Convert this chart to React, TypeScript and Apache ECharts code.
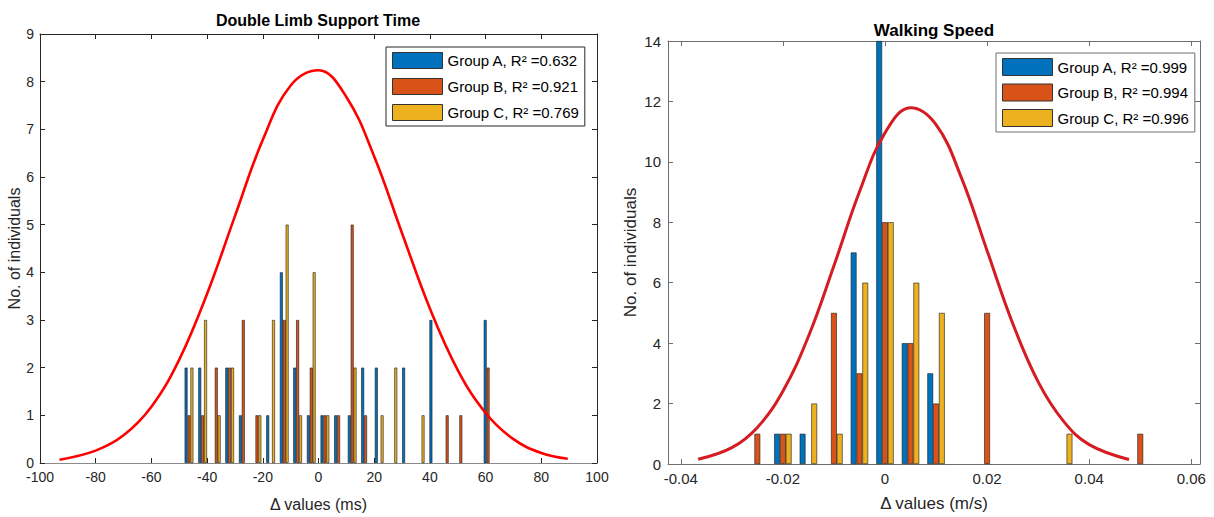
import React, { useEffect, useRef } from "react";
import * as echarts from "echarts";

// ---------- Double Limb Support Time (ms) ----------
const dlsBins = [-46.5, -41.6, -36.7, -31.9, -27.0, -22.1, -17.2, -12.3, -7.5, -2.6, 2.3, 7.2, 12.1, 16.9, 21.8, 26.7, 31.6, 36.5, 41.4, 46.2, 51.1, 60.9];
const dlsA = [2, 2, 0, 2, 1, 0, 1, 4, 2, 1, 1, 1, 1, 2, 2, 0, 2, 0, 3, 0, 0, 3];
const dlsB = [1, 1, 2, 2, 3, 1, 0, 3, 3, 2, 1, 1, 5, 1, 0, 0, 0, 0, 0, 1, 1, 2];
const dlsC = [2, 3, 1, 2, 0, 1, 3, 5, 1, 4, 1, 0, 2, 0, 1, 2, 0, 1, 0, 0, 0, 0];
const dlsNames = ["Group A, R² =0.632", "Group B, R² =0.921", "Group C, R² =0.769"];
const dlsCurveX = [-93, -80, -70, -60, -50, -40, -30, -20, -10, 0, 10, 20, 30, 40, 50, 60, 70, 80, 89.5];
const dlsCurveY = [0.07, 0.26, 0.58, 1.18, 2.17, 3.55, 5.18, 6.78, 7.92, 8.24, 7.68, 6.43, 4.82, 3.24, 1.95, 1.05, 0.5, 0.21, 0.09];
const dlsXTicks = { min: -100, max: 100, step: 20 };
const dlsYTicks = { min: 0, max: 9, step: 1 };

// ---------- Walking Speed (m/s) ----------
const wsBins = [-0.025, -0.02, -0.015, -0.01, -0.005, 0, 0.005, 0.01, 0.02, 0.035, 0.05];
const wsA = [0, 1, 1, 0, 7, 14, 4, 3, 0, 0, 0];
const wsB = [1, 1, 0, 5, 3, 8, 4, 2, 5, 0, 1];
const wsC = [0, 1, 2, 1, 6, 8, 6, 5, 0, 1, 0];
const wsNames = ["Group A, R² =0.999", "Group B, R² =0.994", "Group C, R² =0.996"];
const wsCurveX = [-0.0366, -0.03, -0.025, -0.02, -0.015, -0.01, -0.005, 0, 0.005, 0.01, 0.015, 0.02, 0.025, 0.03, 0.035, 0.04, 0.0478];
const wsCurveY = [0.155, 0.54, 1.21, 2.41, 4.22, 6.56, 9.01, 10.96, 11.79, 11.23, 9.46, 7.06, 4.66, 2.72, 1.41, 0.64, 0.15];
const wsXTicks = { min: -0.0425, max: 0.0617, step: 0.02 };
const wsYTicks = { min: 0, max: 14, step: 2 };

const COLORS = ["#0072BD", "#D95319", "#EDB120"];
const FONT = "'Liberation Sans', Arial, Helvetica, sans-serif";
const TXT = "#262626";

function zip(xs: number[], ys: number[]) {
  return xs.map((x, i) => [x, ys[i]]);
}

export default function App() {
  const ref = useRef<HTMLDivElement>(null);
  useEffect(() => {
    if (!ref.current) return;
    const chart = echarts.init(ref.current, undefined, { renderer: "svg" });

    const axisCommon = (color: string) => ({
      splitLine: { show: false },
      axisLine: { show: true, onZero: false, lineStyle: { color, width: 1 } },
      axisTick: { show: true, inside: true, length: 5, lineStyle: { color } },
    });

    const wsFmt = (v: number) => {
      const k = v / 0.02;
      if (Math.abs(k - Math.round(k)) > 1e-6) return "";
      const r = Math.round(k) * 0.02;
      if (Math.abs(r) < 1e-9) return "0";
      return String(+r.toFixed(2));
    };

    const barSeries = (
      names: string[],
      bins: number[],
      vals: number[][],
      xi: number,
      yi: number,
      w: number
    ) =>
      vals.map((v, k) => ({
        type: "bar",
        name: names[k],
        xAxisIndex: xi,
        yAxisIndex: yi,
        data: zip(bins, v).filter((d) => d[1] > 0),
        barWidth: w,
        barGap: "0%",
        itemStyle: { color: COLORS[k], borderColor: "#1a1a1a", borderWidth: 0.6 },
        z: 2,
      }));

    const option: any = {
      animation: false,
      backgroundColor: "#ffffff",
      textStyle: { fontFamily: FONT },
      grid: [
        { left: 40, top: 34, width: 557, height: 430.5 },
        { left: 668, top: 41, width: 532, height: 423 },
      ],
      xAxis: [
        {
          gridIndex: 0,
          type: "value",
          position: "bottom",
          min: dlsXTicks.min,
          max: dlsXTicks.max,
          interval: dlsXTicks.step,
          ...axisCommon("#262626"),
          axisLine: { show: true, onZero: false, lineStyle: { color: "#8a8a8a", width: 1 } },
          axisLabel: { color: TXT, fontSize: 14, margin: 7, fontFamily: FONT },
          name: "Δ values (ms)",
          nameLocation: "middle",
          nameGap: 33,
          nameTextStyle: { color: TXT, fontSize: 16, fontFamily: FONT },
        },
        {
          gridIndex: 0,
          type: "value",
          position: "top",
          min: dlsXTicks.min,
          max: dlsXTicks.max,
          interval: dlsXTicks.step,
          ...axisCommon("#262626"),
          axisLabel: { show: false },
        },
        {
          gridIndex: 1,
          type: "value",
          position: "bottom",
          min: wsXTicks.min,
          max: wsXTicks.max,
          minInterval: wsXTicks.step,
          maxInterval: wsXTicks.step,
          ...axisCommon("#6e6e6e"),
          axisLabel: { color: TXT, fontSize: 15, margin: 7, fontFamily: FONT, formatter: wsFmt },
          name: "Δ values (m/s)",
          nameLocation: "middle",
          nameGap: 31,
          nameTextStyle: { color: TXT, fontSize: 17, fontFamily: FONT },
        },
        {
          gridIndex: 1,
          type: "value",
          position: "top",
          min: wsXTicks.min,
          max: wsXTicks.max,
          minInterval: wsXTicks.step,
          maxInterval: wsXTicks.step,
          ...axisCommon("#6e6e6e"),
          axisLabel: { show: false },
        },
      ],
      yAxis: [
        {
          gridIndex: 0,
          type: "value",
          position: "left",
          min: dlsYTicks.min,
          max: dlsYTicks.max,
          interval: dlsYTicks.step,
          ...axisCommon("#262626"),
          axisLabel: { color: TXT, fontSize: 14, margin: 6, fontFamily: FONT },
          name: "No. of individuals",
          nameLocation: "middle",
          nameGap: 12,
          nameTextStyle: { color: TXT, fontSize: 16, fontFamily: FONT },
        },
        {
          gridIndex: 0,
          type: "value",
          position: "right",
          min: dlsYTicks.min,
          max: dlsYTicks.max,
          interval: dlsYTicks.step,
          ...axisCommon("#262626"),
          axisLabel: { show: false },
        },
        {
          gridIndex: 1,
          type: "value",
          position: "left",
          min: wsYTicks.min,
          max: wsYTicks.max,
          interval: wsYTicks.step,
          ...axisCommon("#6e6e6e"),
          axisLabel: { color: TXT, fontSize: 15, margin: 7, fontFamily: FONT },
          name: "No. of individuals",
          nameLocation: "middle",
          nameGap: 29,
          nameTextStyle: { color: TXT, fontSize: 17, fontFamily: FONT },
        },
        {
          gridIndex: 1,
          type: "value",
          position: "right",
          min: wsYTicks.min,
          max: wsYTicks.max,
          interval: wsYTicks.step,
          ...axisCommon("#6e6e6e"),
          axisLabel: { show: false },
        },
      ],
      legend: [
        {
          data: dlsNames,
          orient: "vertical",
          left: 386,
          top: 47,
          padding: [5, 6, 5, 6],
          itemWidth: 50,
          itemHeight: 16,
          itemGap: 9,
          icon: "rect",
          backgroundColor: "#ffffff",
          borderColor: "#262626",
          borderWidth: 1,
          borderRadius: 0,
          itemStyle: { borderColor: "#333333", borderWidth: 1 },
          textStyle: { color: "#000", fontSize: 15, fontFamily: FONT },
        },
        {
          data: wsNames,
          orient: "vertical",
          left: 996,
          top: 53,
          padding: [5, 6, 5, 6],
          itemWidth: 50,
          itemHeight: 17,
          itemGap: 7.5,
          icon: "rect",
          backgroundColor: "#ffffff",
          borderColor: "#6e6e6e",
          borderWidth: 1,
          borderRadius: 0,
          itemStyle: { borderColor: "#333333", borderWidth: 1 },
          textStyle: { color: "#000", fontSize: 15, fontFamily: FONT },
        },
      ],
      graphic: [
        {
          type: "text",
          x: 318,
          y: 20,
          style: {
            text: "Double Limb Support Time",
            fill: "#000",
            fontSize: 16,
            fontWeight: "bold",
            fontFamily: FONT,
            align: "center",
            verticalAlign: "middle",
          },
        },
        {
          type: "text",
          x: 934,
          y: 30,
          style: {
            text: "Walking Speed",
            fill: "#000",
            fontSize: 17,
            fontWeight: "bold",
            fontFamily: FONT,
            align: "center",
            verticalAlign: "middle",
          },
        },
      ],
      series: [
        ...barSeries(dlsNames, dlsBins, [dlsA, dlsB, dlsC], 0, 0, 2.9),
        {
          type: "line",
          name: "fit1",
          xAxisIndex: 0,
          yAxisIndex: 0,
          data: zip(dlsCurveX, dlsCurveY),
          smooth: 0.4,
          showSymbol: false,
          symbol: "none",
          lineStyle: { color: "#ff0000", width: 2.6 },
          z: 5,
        },
        ...barSeries(wsNames, wsBins, [wsA, wsB, wsC], 2, 2, 5.8),
        {
          type: "line",
          name: "fit2",
          xAxisIndex: 2,
          yAxisIndex: 2,
          data: zip(wsCurveX, wsCurveY),
          smooth: 0.4,
          showSymbol: false,
          symbol: "none",
          lineStyle: { color: "#d41c22", width: 3 },
          z: 5,
        },
      ],
    };
    chart.setOption(option);
    return () => chart.dispose();
  }, []);

  return (
    <div
      ref={ref}
      style={{ position: "absolute", left: 0, top: 0, width: 1214, height: 517, background: "#fff" }}
    />
  );
}
